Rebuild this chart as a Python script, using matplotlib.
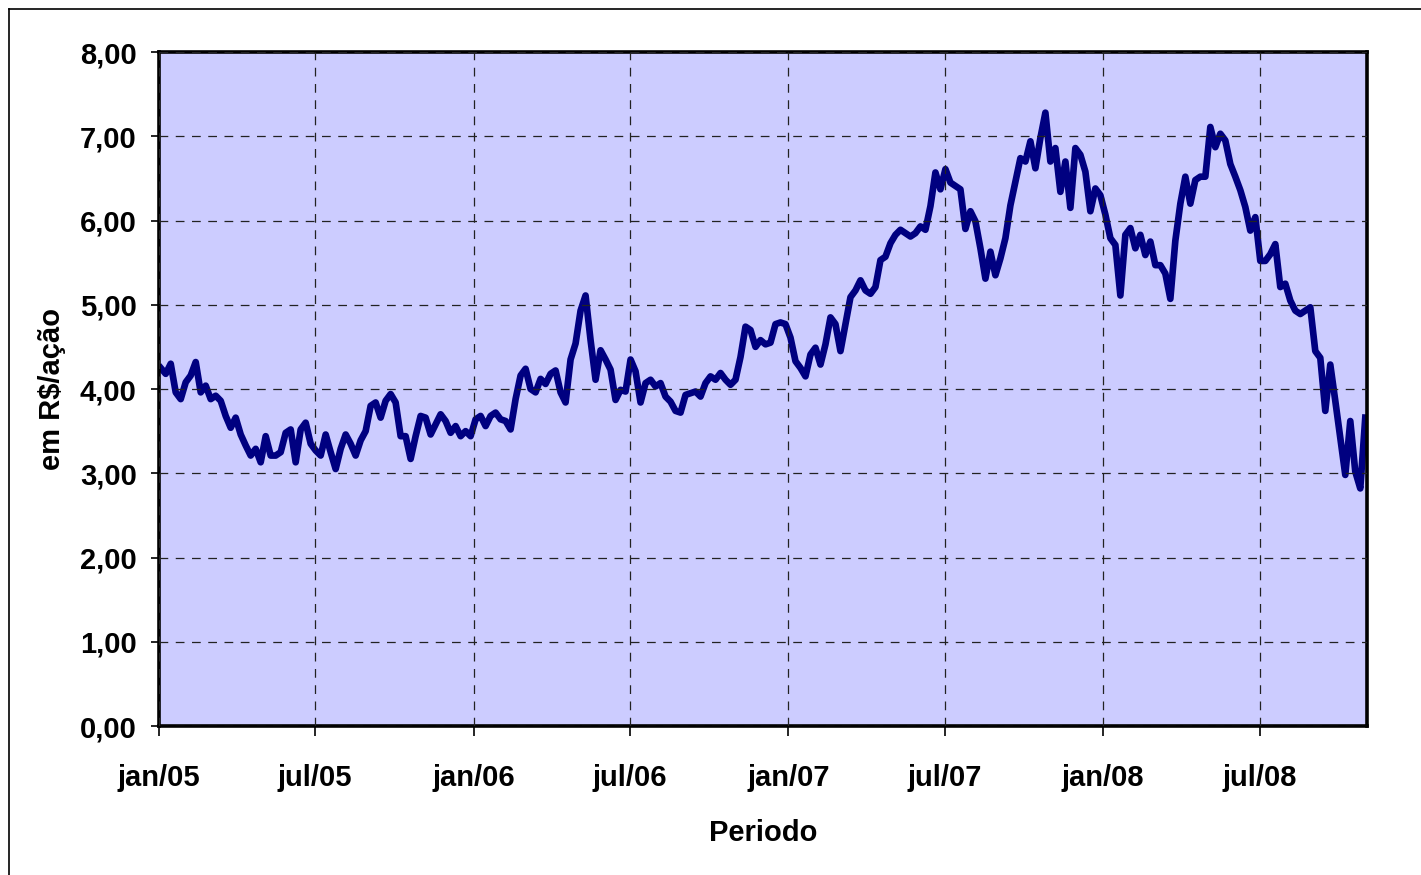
import numpy as np
import pandas as pd
import matplotlib
matplotlib.use('Agg')
import matplotlib.pyplot as plt
import matplotlib.dates as mdates
from matplotlib.ticker import FuncFormatter, MultipleLocator

plt.rcParams['font.family'] = ['Liberation Sans', 'DejaVu Sans']
plt.rcParams['font.weight'] = 'bold'

# ============================================================
# DADOS (R$/acao)
# ============================================================

precos = [
    4.25, 4.18, 4.30, 3.96, 3.88, 4.08, 4.16, 4.32, 3.96, 4.04,
    3.88, 3.92, 3.86, 3.68, 3.54, 3.66, 3.46, 3.33, 3.21, 3.29,
    3.13, 3.44, 3.21, 3.21, 3.25, 3.48, 3.52, 3.13, 3.52, 3.60,
    3.35, 3.27, 3.21, 3.46, 3.25, 3.05, 3.29, 3.46, 3.35, 3.21,
    3.39, 3.50, 3.80, 3.84, 3.66, 3.86, 3.94, 3.84, 3.44, 3.44,
    3.17, 3.44, 3.68, 3.66, 3.46, 3.58, 3.70, 3.62, 3.48, 3.56,
    3.44, 3.50, 3.44, 3.64, 3.68, 3.56, 3.68, 3.72, 3.64, 3.62,
    3.52, 3.88, 4.16, 4.24, 4.00, 3.96, 4.12, 4.06, 4.18, 4.22,
    3.96, 3.84, 4.35, 4.54, 4.93, 5.11, 4.58, 4.11, 4.46, 4.35,
    4.23, 3.87, 3.99, 3.97, 4.35, 4.21, 3.84, 4.07, 4.11, 4.03,
    4.07, 3.91, 3.85, 3.74, 3.72, 3.93, 3.95, 3.97, 3.91, 4.07,
    4.15, 4.11, 4.19, 4.11, 4.05, 4.11, 4.38, 4.74, 4.70, 4.50,
    4.58, 4.53, 4.55, 4.77, 4.79, 4.77, 4.61, 4.33, 4.25, 4.15,
    4.41, 4.49, 4.29, 4.53, 4.85, 4.77, 4.45, 4.77, 5.09, 5.17,
    5.29, 5.17, 5.13, 5.21, 5.53, 5.57, 5.73, 5.83, 5.89, 5.85,
    5.81, 5.85, 5.93, 5.89, 6.17, 6.57, 6.37, 6.61, 6.45, 6.41,
    6.37, 5.90, 6.11, 5.99, 5.67, 5.31, 5.63, 5.35, 5.55, 5.79,
    6.18, 6.46, 6.74, 6.70, 6.94, 6.62, 6.98, 7.28, 6.70, 6.86,
    6.34, 6.70, 6.15, 6.86, 6.78, 6.58, 6.11, 6.38, 6.30, 6.07,
    5.79, 5.71, 5.11, 5.83, 5.91, 5.67, 5.83, 5.59, 5.75, 5.47,
    5.47, 5.37, 5.07, 5.76, 6.20, 6.52, 6.20, 6.48, 6.52, 6.52,
    7.11, 6.87, 7.03, 6.95, 6.67, 6.52, 6.36, 6.16, 5.88, 6.04,
    5.52, 5.52, 5.60, 5.72, 5.21, 5.25, 5.05, 4.93, 4.89, 4.93,
    4.97, 4.45, 4.37, 3.74, 4.29, 3.86, 3.42, 2.98, 3.62, 3.02,
    2.82, 3.66,
]
inicio, fim = '2005-01-03', '2008-10-31'
datas = pd.date_range(inicio, fim, periods=len(precos))

# ============================================================
# GRAFICO
# ============================================================

fundo_plot = "#CCCCFF"
azul       = "#000080"

fig = plt.figure(figsize=(14.21, 8.75), dpi=100)
fig.patch.set_facecolor('white')
ax = fig.add_axes([159/1421, 1 - 726/875, (1367 - 159)/1421, (726 - 52)/875])
ax.set_facecolor(fundo_plot)

ax.plot(datas, precos, color=azul, linewidth=4.8, solid_joinstyle='round')

ax.set_ylim(0, 8)
ax.set_xlim(pd.Timestamp('2005-01-01'), pd.Timestamp('2008-11-02'))
ax.yaxis.set_major_locator(MultipleLocator(1))
ax.yaxis.set_major_formatter(FuncFormatter(lambda v, p: f'{v:.2f}'.replace('.', ',')))

meses = {1: 'jan', 7: 'jul'}
ax.xaxis.set_major_locator(mdates.MonthLocator(bymonth=[1, 7]))
ax.xaxis.set_major_formatter(FuncFormatter(
    lambda v, p: f"{meses[mdates.num2date(v).month]}/{mdates.num2date(v).strftime('%y')}"))

ax.grid(True, color='#222222', linewidth=0.9, linestyle=(0, (7, 6)))
ax.set_axisbelow(False)
for sp in ax.spines.values():
    sp.set_linewidth(2.6)
    sp.set_color('black')

ax.tick_params(axis='y', direction='out', length=6, width=1.2, pad=10, labelsize=21)
ax.tick_params(axis='x', direction='out', length=7, width=1.2, pad=20, labelsize=21)

ax.set_xlabel('Periodo', fontsize=21, fontweight='bold', labelpad=20)
ax.set_ylabel('em R$/ação', fontsize=21, fontweight='bold', labelpad=10)

# moldura externa (so esquerda e topo visiveis)
fig.add_artist(plt.Line2D([9/1421, 9/1421], [0, 1 - 9/875], transform=fig.transFigure,
                          color='black', linewidth=1.2))
fig.add_artist(plt.Line2D([9/1421, 1], [1 - 9/875, 1 - 9/875], transform=fig.transFigure,
                          color='black', linewidth=1.2))

plt.savefig('out.png', dpi=100, facecolor='white')
